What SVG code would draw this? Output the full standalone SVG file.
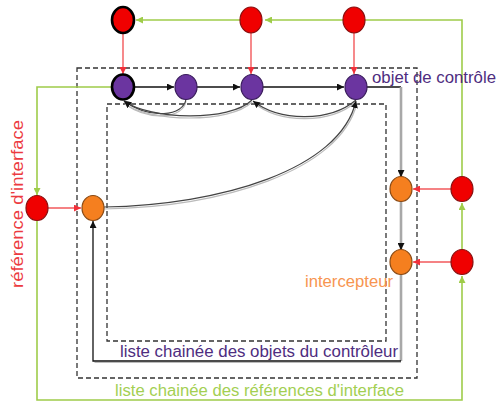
<svg xmlns="http://www.w3.org/2000/svg" width="499" height="403" viewBox="0 0 499 403">
<defs>
<style>
.red{fill:#f00000;stroke:#8a1010;stroke-width:1.2}
.pur{fill:#6b35a0;stroke:#3a1d5c;stroke-width:1.2}
.org{fill:#f57f1f;stroke:#8a4a14;stroke-width:1.2}
.bold{stroke:#000;stroke-width:2.6}
.g{fill:none;stroke:#9fcc4a;stroke-width:1.6}
.r{fill:none;stroke:#f2585b;stroke-width:1.4}
.k{fill:none;stroke:#111;stroke-width:1.3}
.gr{fill:none;stroke:#a8a8a8;stroke-width:2.6}
.cv{fill:none;stroke:#444;stroke-width:1.2}
.cvs{fill:none;stroke:#bbb;stroke-width:1.2}
.dash{fill:none;stroke:#333;stroke-width:1.3;stroke-dasharray:5 3}
text{font-family:"Liberation Sans",Arial,sans-serif;font-size:16px}
</style>
<marker id="ag" viewBox="0 0 10 10" refX="10" refY="5" markerWidth="7" markerHeight="7" markerUnits="userSpaceOnUse" orient="auto"><path d="M0,0L10,5L0,10z" fill="#9fcc4a"/></marker>
<marker id="ar" viewBox="0 0 10 10" refX="10" refY="5" markerWidth="7" markerHeight="7" markerUnits="userSpaceOnUse" orient="auto"><path d="M0,0L10,5L0,10z" fill="#f2303a"/></marker>
<marker id="ak" viewBox="0 0 10 10" refX="10" refY="5" markerWidth="7" markerHeight="7" markerUnits="userSpaceOnUse" orient="auto"><path d="M0,0L10,5L0,10z" fill="#111"/></marker>
</defs>
<rect width="499" height="403" fill="#fff"/>
<g id="containers">
<rect class="dash" x="77" y="68" width="340" height="310"/>
<rect class="dash" x="107" y="104" width="279" height="237"/>
</g>
<g id="connectors">
<!-- green interface-reference list -->
<path class="g" d="M462,176 V20 H356" marker-end="url(#ag)"/>
<path class="g" d="M343,20 H265" marker-end="url(#ag)"/>
<path class="g" d="M240,20 H136" marker-end="url(#ag)"/>
<path class="g" d="M112,87 H37 V195" marker-end="url(#ag)"/>
<path class="g" d="M37,221 V400 H462 V276" marker-end="url(#ag)"/>
<path class="g" d="M462,249 V203" marker-end="url(#ag)"/>
<!-- red -->
<path class="r" d="M123,33 V74" marker-end="url(#ar)"/>
<path class="r" d="M251,33 V74" marker-end="url(#ar)"/>
<path class="r" d="M354,33 V74" marker-end="url(#ar)"/>
<path class="r" d="M48,208 H81" marker-end="url(#ar)"/>
<path class="r" d="M451,189 H413" marker-end="url(#ar)"/>
<path class="r" d="M451,262 H413" marker-end="url(#ar)"/>
<!-- black chain -->
<path class="k" d="M135,87 H174" marker-end="url(#ak)"/>
<path class="k" d="M197,87 H240" marker-end="url(#ak)"/>
<path class="k" d="M263,87 H344" marker-end="url(#ak)"/>
<path class="k" d="M367,87 H401"/>
<path class="gr" d="M401,87 V176"/>
<path class="k" d="M401,170 V177" marker-end="url(#ak)"/>
<path class="gr" d="M401,201 V249"/>
<path class="k" d="M401,243 V250" marker-end="url(#ak)"/>
<path class="gr" d="M401,274 V361"/>
<path class="cvs" d="M401,362.5 H94.5"/>
<path class="k" d="M401,361 H93 V221" marker-end="url(#ak)"/>
<!-- curves -->
<path class="cvs" d="M186,101 C184,118 150,122 125,104"/>
<path class="cv" d="M186,99 C184,116 150,120 124,101" marker-end="url(#ak)"/>
<path class="cvs" d="M252,102 C230,124 150,122 125,104"/>
<path class="cv" d="M252,100 C230,122 150,120 124,101" marker-end="url(#ak)"/>
<path class="cvs" d="M356,102 C330,124 280,124 254,103"/>
<path class="cv" d="M356,100 C330,122 280,122 253,101" marker-end="url(#ak)"/>
<path class="cvs" d="M104,209 C220,207 340,172 357,103"/>
<path class="cv" d="M104,207 C220,205 340,170 356,101" marker-end="url(#ak)"/>
</g>
<g id="red-top-1"><ellipse class="red bold" cx="123" cy="20" rx="11" ry="13"/></g>
<g id="red-top-2"><ellipse class="red" cx="251" cy="20" rx="11" ry="13"/></g>
<g id="red-top-3"><ellipse class="red" cx="354" cy="20" rx="11" ry="13"/></g>
<g id="purple-1"><ellipse class="pur bold" cx="123" cy="87" rx="11" ry="12.5"/></g>
<g id="purple-2"><ellipse class="pur" cx="186" cy="87" rx="11" ry="12.5"/></g>
<g id="purple-3"><ellipse class="pur" cx="252" cy="87" rx="11" ry="12.5"/></g>
<g id="purple-4"><ellipse class="pur" cx="356" cy="87" rx="11" ry="12.5"/></g>
<g id="red-left"><ellipse class="red" cx="37" cy="208" rx="11" ry="12.5"/></g>
<g id="orange-left"><ellipse class="org" cx="93" cy="208" rx="11" ry="12.5"/></g>
<g id="orange-right-1"><ellipse class="org" cx="401" cy="189" rx="11" ry="12.5"/></g>
<g id="orange-right-2"><ellipse class="org" cx="401" cy="262" rx="11" ry="12.5"/></g>
<g id="red-right-1"><ellipse class="red" cx="462" cy="189" rx="11" ry="12.5"/></g>
<g id="red-right-2"><ellipse class="red" cx="462" cy="262" rx="11" ry="12.5"/></g>
<g id="labels">
<text x="372" y="83" fill="#4e2d80" textLength="124" lengthAdjust="spacingAndGlyphs">objet de contrôle</text>
<text x="305" y="287" fill="#f79550" textLength="88" lengthAdjust="spacingAndGlyphs">intercepteur</text>
<text x="120" y="357" fill="#4e2d80" textLength="278" lengthAdjust="spacingAndGlyphs">liste chainée des objets du contrôleur</text>
<text x="115" y="396" fill="#a3cf52" textLength="289" lengthAdjust="spacingAndGlyphs">liste chainée des références d'interface</text>
<text transform="translate(23,288) rotate(-90)" fill="#ec3a40" textLength="168" lengthAdjust="spacingAndGlyphs">référence d'interface</text>
</g>
</svg>
